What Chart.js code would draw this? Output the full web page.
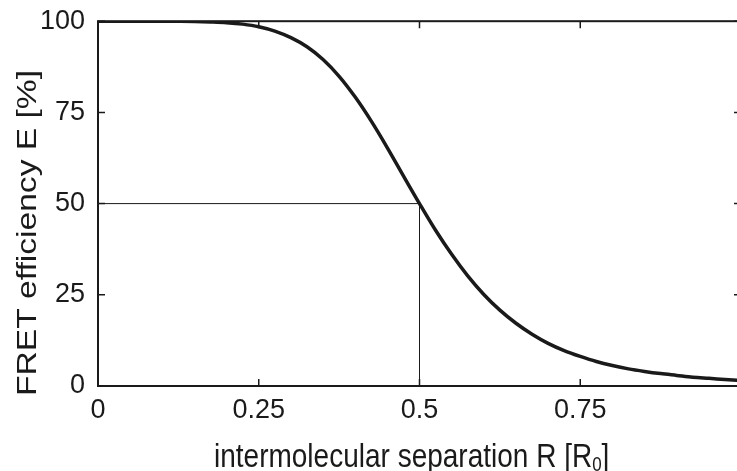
<!DOCTYPE html>
<html>
<head>
<meta charset="utf-8">
<script src="https://cdn.jsdelivr.net/npm/chart.js@4/dist/chart.umd.min.js"></script>
<style>
  html, body { margin: 0; padding: 0; background: #fff; overflow: hidden; }
  #wrap { width: 745px; height: 471px; }
</style>
</head>
<body>
<div id="wrap"><canvas id="chartFret"></canvas></div>
<script>
// Curva de eficiencia FRET (R en unidades de R0, E en %)
const rValues = [0, 0.025, 0.05, 0.075, 0.1, 0.125, 0.15, 0.175, 0.2, 0.225,
  0.25, 0.275, 0.3, 0.325, 0.35, 0.375, 0.4, 0.425, 0.45, 0.475,
  0.5, 0.525, 0.55, 0.575, 0.6, 0.625, 0.65, 0.675, 0.7, 0.725,
  0.75, 0.775, 0.8, 0.825, 0.85, 0.875, 0.9, 0.925, 0.95, 0.975, 1];
const efficiency = [100, 100, 100, 100, 100, 99.98, 99.93, 99.8, 99.6, 99.2,
  98.5, 97.3, 95.5, 93.0, 89.5, 84.9, 79.2, 72.6, 65.3, 57.6,
  50, 42.7, 36.1, 30.2, 25.1, 20.8, 17.2, 14.2, 11.7, 9.7,
  8.1, 6.7, 5.6, 4.7, 4.0, 3.4, 2.9, 2.4, 2.1, 1.8, 1.5];

// Líneas guía en E = 50 %
const guideR = [0, 0.5, 0.5];
const guideE = [50, 50, 0];

const X_TITLE = "intermolecular separation R [R";
const X_TITLE_SUB = "0";
const Y_TITLE = "FRET efficiency E [%]";
const INK = "#1a1a1a";
const FONT = "'Liberation Sans', Arial, Helvetica, sans-serif";

const toPoints = (xs, ys) => xs.map((x, i) => ({ x, y: ys[i] }));

// Marco cerrado con marcas hacia dentro (estilo MATLAB) y títulos de ejes
const framePlugin = {
  id: "frame",
  afterDraw(chart) {
    const { ctx, chartArea: a, scales } = chart;
    ctx.save();
    ctx.strokeStyle = INK;
    ctx.lineWidth = 2;
    ctx.strokeRect(a.left, a.top, a.right - a.left, a.bottom - a.top);
    ctx.lineWidth = 1.5;
    const tl = 7;
    ctx.beginPath();
    scales.x.ticks.forEach((t) => {
      const px = scales.x.getPixelForValue(t.value);
      ctx.moveTo(px, a.bottom); ctx.lineTo(px, a.bottom - tl);
      ctx.moveTo(px, a.top); ctx.lineTo(px, a.top + tl);
    });
    scales.y.ticks.forEach((t) => {
      const py = scales.y.getPixelForValue(t.value);
      ctx.moveTo(a.left, py); ctx.lineTo(a.left + tl, py);
      ctx.moveTo(a.right, py); ctx.lineTo(a.right - tl, py);
    });
    ctx.stroke();

    ctx.fillStyle = INK;
    ctx.textBaseline = "alphabetic";
    // título X (con subíndice)
    ctx.save();
    ctx.translate(214, 467);
    ctx.scale(1, 1.2);
    ctx.font = "28px " + FONT;
    ctx.textAlign = "left";
    ctx.fillText(X_TITLE, 0, 0);
    let w = ctx.measureText(X_TITLE).width;
    ctx.font = "17px " + FONT;
    ctx.fillText(X_TITLE_SUB, w, 3);
    w += ctx.measureText(X_TITLE_SUB).width;
    ctx.font = "28px " + FONT;
    ctx.fillText("]", w, 0);
    ctx.restore();
    // título Y
    ctx.save();
    ctx.translate(36, 233);
    ctx.rotate(-Math.PI / 2);
    ctx.scale(1.2, 1);
    ctx.font = "28px " + FONT;
    ctx.textAlign = "center";
    ctx.fillText(Y_TITLE, 0, 0);
    ctx.restore();
    ctx.restore();
  },
};

new Chart(document.getElementById("chartFret").getContext("2d"), {
  type: "line",
  data: {
    datasets: [
      {
        data: toPoints(rValues, efficiency),
        borderColor: INK,
        borderWidth: 3.5,
        pointRadius: 0,
        cubicInterpolationMode: "monotone",
      },
      {
        data: toPoints(guideR, guideE),
        borderColor: INK,
        borderWidth: 1,
        pointRadius: 0,
        tension: 0,
      },
    ],
  },
  options: {
    responsive: true,
    maintainAspectRatio: false,
    animation: false,
    layout: { padding: { top: 21, right: 4, left: 0, bottom: 0 } },
    plugins: { legend: { display: false }, tooltip: { enabled: false } },
    scales: {
      x: {
        type: "linear",
        min: 0,
        max: 1,
        grid: { display: false },
        border: { display: false },
        ticks: {
          stepSize: 0.25,
          padding: 0,
          color: INK,
          font: { family: FONT, size: 27 },
          maxRotation: 0,
          callback: (v) => (v < 1 ? String(v) : ""),
        },
        afterFit: (s) => { s.height = 85; },
      },
      y: {
        min: 0,
        max: 100,
        grid: { display: false },
        border: { display: false },
        ticks: {
          stepSize: 25,
          padding: 5,
          color: INK,
          font: { family: FONT, size: 27 },
        },
        afterFit: (s) => { s.width = 98; },
      },
    },
  },
  plugins: [framePlugin],
});
</script>
</body>
</html>
